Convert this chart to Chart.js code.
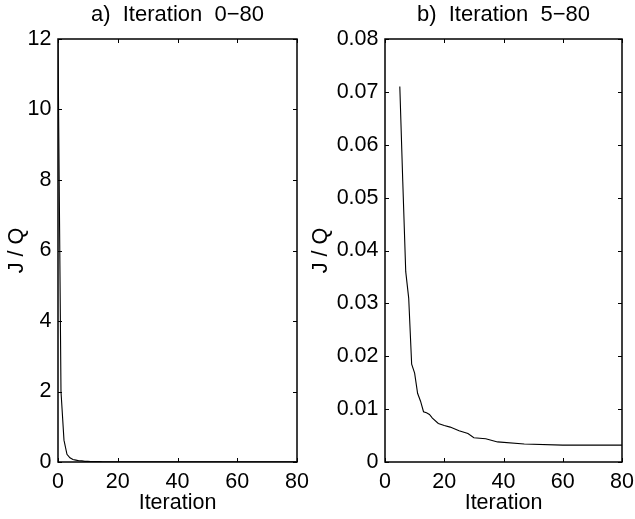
<!DOCTYPE html>
<html>
<head>
<meta charset="utf-8">
<script src="https://cdn.jsdelivr.net/npm/chart.js@4.4.1/dist/chart.umd.min.js"></script>
<style>
  html, body { margin: 0; padding: 0; background: #ffffff; }
  #wrap { position: relative; width: 635px; height: 519px; overflow: hidden; background: #fff; }
  canvas { position: absolute; top: 0; }
  #cA { left: 0px; }
  #cB { left: 305px; }
</style>
</head>
<body>
<div id="wrap">
  <canvas id="cA" width="320" height="519"></canvas>
  <canvas id="cB" width="330" height="519"></canvas>
</div>
<script>
// ---- data ----
const iterations = [0, 1, 2, 3, 4, 5, 6, 7, 8, 9, 10, 11, 12, 13, 14, 15, 16, 18, 20, 22, 25, 28, 30, 34, 38, 47, 60, 80];
const jOverQ = [11.9, 2.0, 0.62, 0.22, 0.12, 0.071, 0.053, 0.036, 0.031, 0.0185, 0.0168, 0.013, 0.0115, 0.0095, 0.0093, 0.009, 0.0083, 0.0073, 0.0069, 0.0066, 0.0059, 0.0054, 0.0046, 0.0044, 0.0038, 0.0034, 0.0032, 0.0032];
const xTickLabels = ['0', '20', '40', '60', '80'];
const yTickLabelsA = ['0', '2', '4', '6', '8', '10', '12'];
const yTickLabelsB = ['0', '0.01', '0.02', '0.03', '0.04', '0.05', '0.06', '0.07', '0.08'];
const titleA = 'a)  Iteration  0\u221280';
const titleB = 'b)  Iteration  5\u221280';
const xTitle = 'Iteration';
const yTitle = 'J / Q';
const startB = 5;

const FONT = "'Liberation Sans', Arial, Helvetica, sans-serif";

const pointsA = iterations.map((x, i) => ({ x: x, y: jOverQ[i] }));
const pointsB = iterations.map((x, i) => ({ x: x, y: jOverQ[i] })).filter(p => p.x >= startB);

// frame + inward ticks on all four sides (MATLAB style box)
const framePlugin = {
  id: 'frame',
  afterDraw(chart) {
    const { ctx, chartArea: a, scales } = chart;
    const tl = 4;
    ctx.save();
    ctx.strokeStyle = '#000';
    ctx.lineWidth = 1;
    ctx.beginPath();
    scales.x.ticks.forEach(t => {
      const px = Math.round(scales.x.getPixelForValue(t.value)) + 0.5;
      ctx.moveTo(px, a.bottom); ctx.lineTo(px, a.bottom - tl);
      ctx.moveTo(px, a.top); ctx.lineTo(px, a.top + tl);
    });
    scales.y.ticks.forEach(t => {
      const py = Math.round(scales.y.getPixelForValue(t.value)) + 0.5;
      ctx.moveTo(a.left, py); ctx.lineTo(a.left + tl, py);
      ctx.moveTo(a.right, py); ctx.lineTo(a.right - tl, py);
    });
    ctx.stroke();
    ctx.lineWidth = 1.5;
    ctx.strokeRect(a.left, a.top, a.right - a.left, a.bottom - a.top);
    ctx.restore();
  }
};

function makeChart(canvasId, points, title, yMax, yStep, yLabels, yAxisWidth, padRight, yTitlePad) {
  return new Chart(document.getElementById(canvasId), {
    type: 'scatter',
    data: {
      datasets: [{
        data: points,
        showLine: true,
        borderColor: '#000',
        borderWidth: 1.1,
        pointRadius: 0,
        tension: 0,
        fill: false
      }]
    },
    options: {
      responsive: false,
      animation: false,
      devicePixelRatio: 1,
      layout: { padding: { left: 0, right: padRight, top: 0, bottom: 0 } },
      plugins: {
        legend: { display: false },
        tooltip: { enabled: false },
        title: {
          display: true,
          text: title,
          color: '#000',
          fullSize: false,
          font: { family: FONT, size: 22, weight: 'normal', lineHeight: 1.2 },
          padding: { top: 1.3, bottom: 11.3 }
        }
      },
      scales: {
        x: {
          type: 'linear',
          min: 0, max: 80,
          ticks: {
            stepSize: 20,
            color: '#000',
            padding: 7.5,
            maxRotation: 0,
            font: { family: FONT, size: 21.5 },
            callback: (v, i) => xTickLabels[i]
          },
          grid: { display: false, drawTicks: false },
          border: { display: false },
          title: {
            display: true, text: xTitle, color: '#000',
            font: { family: FONT, size: 21.5, lineHeight: 1.2 },
            padding: { top: 0, bottom: 3 }
          },
          afterFit: s => { s.height = 57; s.paddingLeft = 0; s.paddingRight = 0; }
        },
        y: {
          type: 'linear',
          min: 0, max: yMax,
          ticks: {
            stepSize: yStep,
            color: '#000',
            padding: 6.5,
            font: { family: FONT, size: 21.5 },
            callback: (v, i) => yLabels[i]
          },
          grid: { display: false, drawTicks: false },
          border: { display: false },
          title: {
            display: true, text: yTitle, color: '#000',
            font: { family: FONT, size: 21.5, lineHeight: 1.2 },
            padding: { top: yTitlePad, bottom: 0 }
          },
          afterFit: s => { s.width = yAxisWidth; s.paddingTop = 0; s.paddingBottom = 0; }
        }
      }
    },
    plugins: [framePlugin]
  });
}

makeChart('cA', pointsA, titleA, 12, 2, yTickLabelsA, 58, 23, 4.5);
makeChart('cB', pointsB, titleB, 0.08, 0.01, yTickLabelsB, 80, 13, 3.5);
</script>
</body>
</html>
